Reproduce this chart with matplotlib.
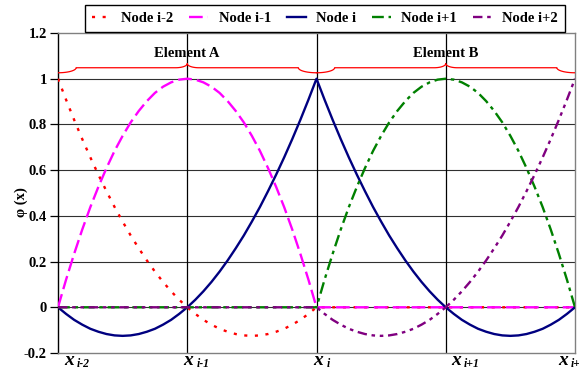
import numpy as np
import matplotlib
matplotlib.use("Agg")
import matplotlib.pyplot as plt

# shape function values, one element wide (33 pts each)
shape_right = [0.0, -0.029, -0.055, -0.076, -0.094, -0.107, -0.117, -0.123, -0.125,
               -0.123, -0.117, -0.107, -0.094, -0.076, -0.055, -0.029, 0.0,
               0.033, 0.070, 0.111, 0.156, 0.205, 0.258, 0.314, 0.375,
               0.439, 0.508, 0.580, 0.656, 0.736, 0.820, 0.908, 1.0]
shape_mid = [0.0, 0.121, 0.234, 0.340, 0.438, 0.527, 0.609, 0.684, 0.750,
             0.809, 0.859, 0.902, 0.938, 0.965, 0.984, 0.996, 1.0,
             0.996, 0.984, 0.965, 0.938, 0.902, 0.859, 0.809, 0.750,
             0.684, 0.609, 0.527, 0.438, 0.340, 0.234, 0.121, 0.0]
shape_left = shape_right[::-1]
zeros = [0.0] * 33

series_names = ["Node i-2", "Node i-1", "Node i", "Node i+1", "Node i+2"]
node_im2 = shape_left + zeros[1:]
node_im1 = shape_mid + zeros[1:]
node_i = shape_right + shape_left[1:]
node_ip1 = zeros + shape_mid[1:]
node_ip2 = zeros + shape_right[1:]
series_vals = [node_im2, node_im1, node_i, node_ip1, node_ip2]

node_pos = [0, 1, 2, 3, 4]
node_main = ["x", "x", "x", "x", "x"]
node_sub = ["i-2", "i-1", "i", "i+1", "i+2"]
element_names = ["Element A", "Element B"]

x = np.linspace(0, 4, 65)

colors = ["#FF0000", "#FF00FF", "#000080", "#008000", "#800080"]
dashes = [(1.3, 3.2), (5.8, 2.2), None, (5.0, 2.0, 1.5, 2.0),
          (4.0, 2.0, 1.5, 2.0, 1.5, 2.0)]

plt.rcParams["font.family"] = ["Liberation Serif", "DejaVu Serif"]
plt.rcParams["font.weight"] = "bold"

fig = plt.figure(figsize=(5.79, 3.70), dpi=100)
ax = fig.add_axes([58 / 579, 1 - 353 / 370, 517 / 579, 320 / 370])

# grid
for yv in [0.0, 0.2, 0.4, 0.6, 0.8, 1.0]:
    ax.axhline(yv, color="#303030", lw=0.8, zorder=1)
for xv in [1, 2, 3]:
    ax.axvline(xv, color="black", lw=0.9, zorder=1)

lines = []
for name, vals, c, d in zip(series_names, series_vals, colors, dashes):
    if d is None:
        ln, = ax.plot(x, vals, color=c, lw=1.7, label=name, zorder=3)
    else:
        ln, = ax.plot(x, vals, color=c, lw=1.7, label=name, zorder=3,
                      dashes=d, dash_capstyle="butt")
    lines.append(ln)


# curly braces over each element
def brace(x0, x1, y_end=1.026, y_plat=1.048, y_tip=1.066, d_end=0.14, d_tip=0.09):
    xm = (x0 + x1) / 2
    t = np.linspace(0, np.pi / 2, 20)
    xa = x0 + d_end * np.sin(t)
    ya = y_end + (y_plat - y_end) * (1 - np.cos(t))
    xb = xm - d_tip * (1 - np.sin(t))
    yb = y_plat + (y_tip - y_plat) * (1 - np.cos(t))
    xl = np.concatenate([xa, xb])
    yl = np.concatenate([ya, yb])
    xr = 2 * xm - xl[::-1]
    yr = yl[::-1]
    ax.plot(np.concatenate([xl, xr]), np.concatenate([yl, yr]),
            color="#FF0000", lw=0.9, zorder=4)


for k, name in enumerate(element_names):
    brace(node_pos[2 * k], node_pos[2 * k + 2])
    ax.text(node_pos[2 * k + 1], 1.11, name, ha="center", va="center",
            fontsize=10.5, fontweight="bold")

ax.set_xlim(0, 4)
ax.set_ylim(-0.2, 1.2)
ax.set_yticks([-0.2, 0, 0.2, 0.4, 0.6, 0.8, 1.0, 1.2])
ax.set_yticklabels(["-0.2", "0", "0.2", "0.4", "0.6", "0.8", "1", "1.2"])
ax.tick_params(axis="y", direction="out", length=6, width=0.9, pad=2,
               labelsize=10.5, colors="black")
for lab in ax.get_yticklabels():
    lab.set_fontweight("bold")
ax.set_xticks([])

for s in ["top", "bottom", "right"]:
    ax.spines[s].set_color("#808080")
    ax.spines[s].set_linewidth(1.0)
ax.spines["left"].set_color("black")
ax.spines["left"].set_linewidth(1.0)

# node labels under the axis
x_offsets = [6, -4, -3, 5, -17]
for p, m, s, dx in zip(node_pos, node_main, node_sub, x_offsets):
    ax.annotate(m, xy=(p, -0.2), xytext=(dx, -12), textcoords="offset pixels",
                ha="left", va="baseline", fontsize=14, fontweight="bold",
                fontstyle="italic", annotation_clip=False)
    ax.annotate(s, xy=(p, -0.2), xytext=(dx + 13, -14), textcoords="offset pixels",
                ha="left", va="baseline", fontsize=8.5, fontweight="bold",
                fontstyle="italic", annotation_clip=False)

fig.text(21 / 579, 1 - 202 / 370, "φ (x)", rotation=90, ha="center", va="center",
         fontsize=10.5, fontweight="bold")

leg = fig.legend(handles=lines, loc="center", ncol=5,
                 bbox_to_anchor=(325 / 579, 1 - 18.5 / 370),
                 prop={"family": "Liberation Serif", "weight": "bold", "size": 10.5},
                 frameon=True, fancybox=False, framealpha=1, edgecolor="black",
                 handlelength=1.3, handletextpad=0.7, columnspacing=1.1,
                 borderpad=0.45, borderaxespad=0)
leg.get_frame().set_linewidth(1.0)

fig.savefig("out.png", dpi=100)
